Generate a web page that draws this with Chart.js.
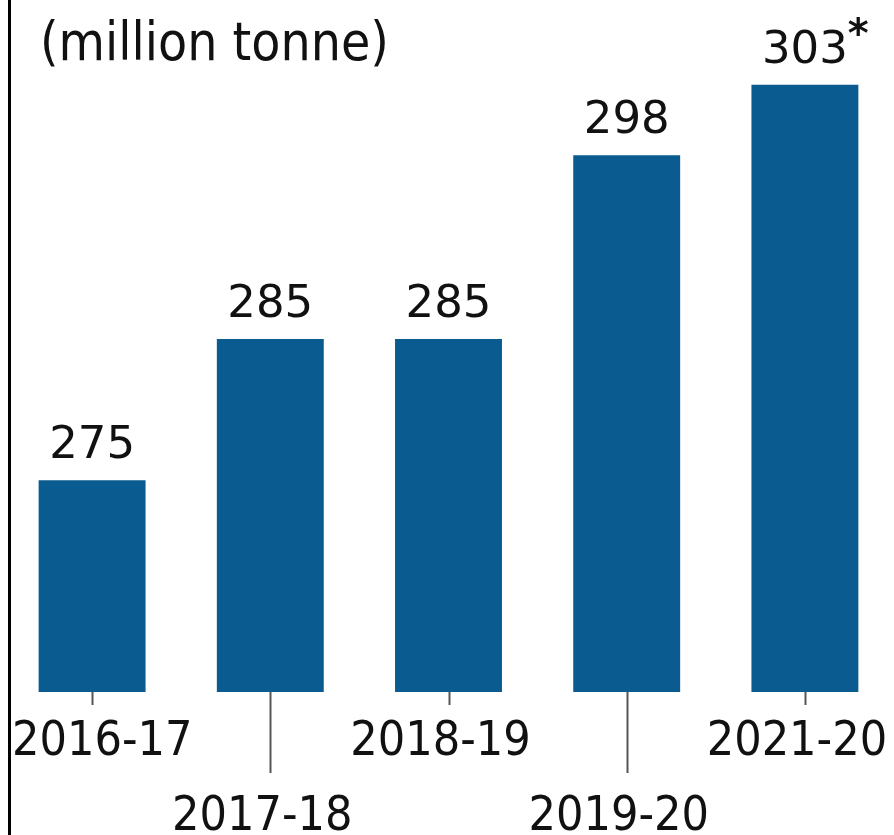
<!DOCTYPE html>
<html>
<head>
<meta charset="utf-8">
<script src="https://cdn.jsdelivr.net/npm/chart.js@4.4.0/dist/chart.umd.min.js"></script>
<style>
  html, body { margin: 0; padding: 0; background: #fff; overflow: hidden; }
  #wrap { position: relative; width: 894px; height: 835px; }
</style>
</head>
<body>
<div id="wrap"><canvas id="chart" width="894" height="835"></canvas></div>
<script>
// data
const years = ["2016-17", "2017-18", "2018-19", "2019-20", "2021-20"];
const output = [275, 285, 285, 298, 303];
const valueLabels = ["275", "285", "285", "298", "303*"];
const unitText = "(million tonne)";

const BAR_COLOR = "#0a5b8f";
const TEXT_COLOR = "#111";

// frame line, unit title, value labels, staggered year labels + tick lines
const decorPlugin = {
  id: "decor",
  afterDraw(chart) {
    const ctx = chart.ctx;
    const xs = chart.scales.x;
    const meta = chart.getDatasetMeta(0);
    const bottom = chart.chartArea.bottom;
    const W = chart.width;

    ctx.save();
    // left frame line
    ctx.fillStyle = "#000";
    ctx.fillRect(8, 0, 3, chart.height);

    // unit
    ctx.fillStyle = TEXT_COLOR;
    ctx.font = "53px 'DejaVu Sans Condensed', 'DejaVu Sans', sans-serif";
    ctx.textAlign = "left";
    ctx.textBaseline = "alphabetic";
    ctx.fillText(unitText, 40, 60);

    // values above bars
    ctx.font = "45px 'DejaVu Sans', sans-serif";
    meta.data.forEach((bar, i) => {
      let txt = valueLabels[i];
      const star = txt.endsWith("*");
      if (star) txt = txt.slice(0, -1);
      ctx.textAlign = "center";
      ctx.fillText(txt, bar.x, bar.y - 22);
      if (star) {
        const w = ctx.measureText(txt).width;
        ctx.save();
        ctx.font = "bold 40px 'DejaVu Sans', sans-serif";
        ctx.textAlign = "left";
        ctx.fillText("*", bar.x + w / 2, bar.y - 38);
        ctx.restore();
      }
    });

    // year labels, alternating rows
    ctx.font = "48px 'DejaVu Sans Condensed', 'DejaVu Sans', sans-serif";
    years.forEach((lab, i) => {
      const cx = xs.getPixelForValue(i);
      const low = i % 2 === 1;
      // tick line
      ctx.strokeStyle = "#555";
      ctx.lineWidth = 2;
      ctx.beginPath();
      ctx.moveTo(Math.round(cx) + 0.5, bottom);
      ctx.lineTo(Math.round(cx) + 0.5, low ? bottom + 81 : bottom + 13);
      ctx.stroke();

      const w = ctx.measureText(lab).width;
      let left = cx - 8 - w / 2;
      if (left < 12) left = 12;
      if (left + w > W - 6) left = W - 6 - w;
      ctx.textAlign = "left";
      ctx.fillStyle = TEXT_COLOR;
      ctx.fillText(lab, left, low ? 830 : 755);
    });
    ctx.restore();
  }
};

new Chart(document.getElementById("chart"), {
  type: "bar",
  data: {
    labels: years,
    datasets: [{
      data: output,
      backgroundColor: BAR_COLOR,
      borderWidth: 0,
      barPercentage: 0.6,
      categoryPercentage: 1
    }]
  },
  options: {
    responsive: false,
    animation: false,
    layout: { padding: { left: 3, right: 0, top: 0, bottom: 143 } },
    plugins: {
      legend: { display: false },
      tooltip: { enabled: false }
    },
    scales: {
      x: { display: false },
      y: { display: false, min: 260, max: 309 }
    }
  },
  plugins: [decorPlugin]
});
</script>
</body>
</html>
